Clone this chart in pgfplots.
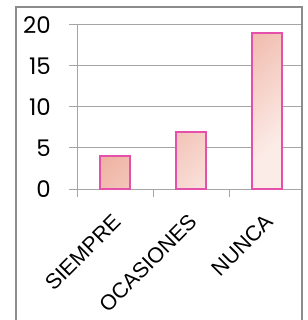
\documentclass[border=0pt]{standalone}
\usepackage{fontspec}
\setmainfont{Liberation Sans}
\newfontfamily\tickfont{Poppins}
\newfontfamily\labfont{Liberation Sans}
\usepackage{pgfplots}
\pgfplotsset{compat=1.18}
\definecolor{barline}{RGB}{228,80,170}
\definecolor{bartop}{RGB}{232,150,128}
\definecolor{barbot}{RGB}{252,236,232}
\definecolor{gridc}{RGB}{165,165,165}
\definecolor{framec}{RGB}{140,140,140}
\begin{document}
\begin{tikzpicture}
\useasboundingbox (0bp,0bp) rectangle (308bp,320bp);
\begin{axis}[at={(77bp,131bp)}, anchor=south west, scale only axis,
  width=228bp, height=164bp,
  xmin=-0.5, xmax=2.5, ymin=0, ymax=20,
  axis x line=bottom, axis y line=left,
  axis line style={draw=gridc, line width=1bp, -},
  ytick={0,5,10,15,20},
  ymajorgrids, grid style={draw=gridc, line width=1bp},
  tick style={draw=gridc, line width=1bp},
  tick align=outside, major tick length=8bp,
  xtick={-0.5,0.5,1.5,2.5}, x tick label as interval,
  xticklabels={SIEMPRE,OCASIONES,NUNCA},
  xticklabel style={xshift=2bp, yshift=-21bp, rotate=45, anchor=east, inner sep=0pt,
    font=\fontsize{21.5}{21.5}\labfont},
  yticklabel style={font=\fontsize{23}{23}\tickfont, inner sep=0pt, anchor=east, xshift=-18bp},
  /pgf/number format/assume math mode=true,
  clip=false,
]
\addplot[ybar, bar width=30bp, draw=barline, line width=2bp,
  top color=bartop, bottom color=barbot, shading angle=45]
  coordinates {(0,4) (1,7) (2,19)};
\end{axis}
\fill[white] (302.5bp,0bp) rectangle (308bp,320bp);
\draw[framec, line width=2bp] (15.5bp,-2bp) -- (15.5bp,312.5bp) -- (301.5bp,312.5bp) -- (301.5bp,-2bp);
\end{tikzpicture}
\end{document}
